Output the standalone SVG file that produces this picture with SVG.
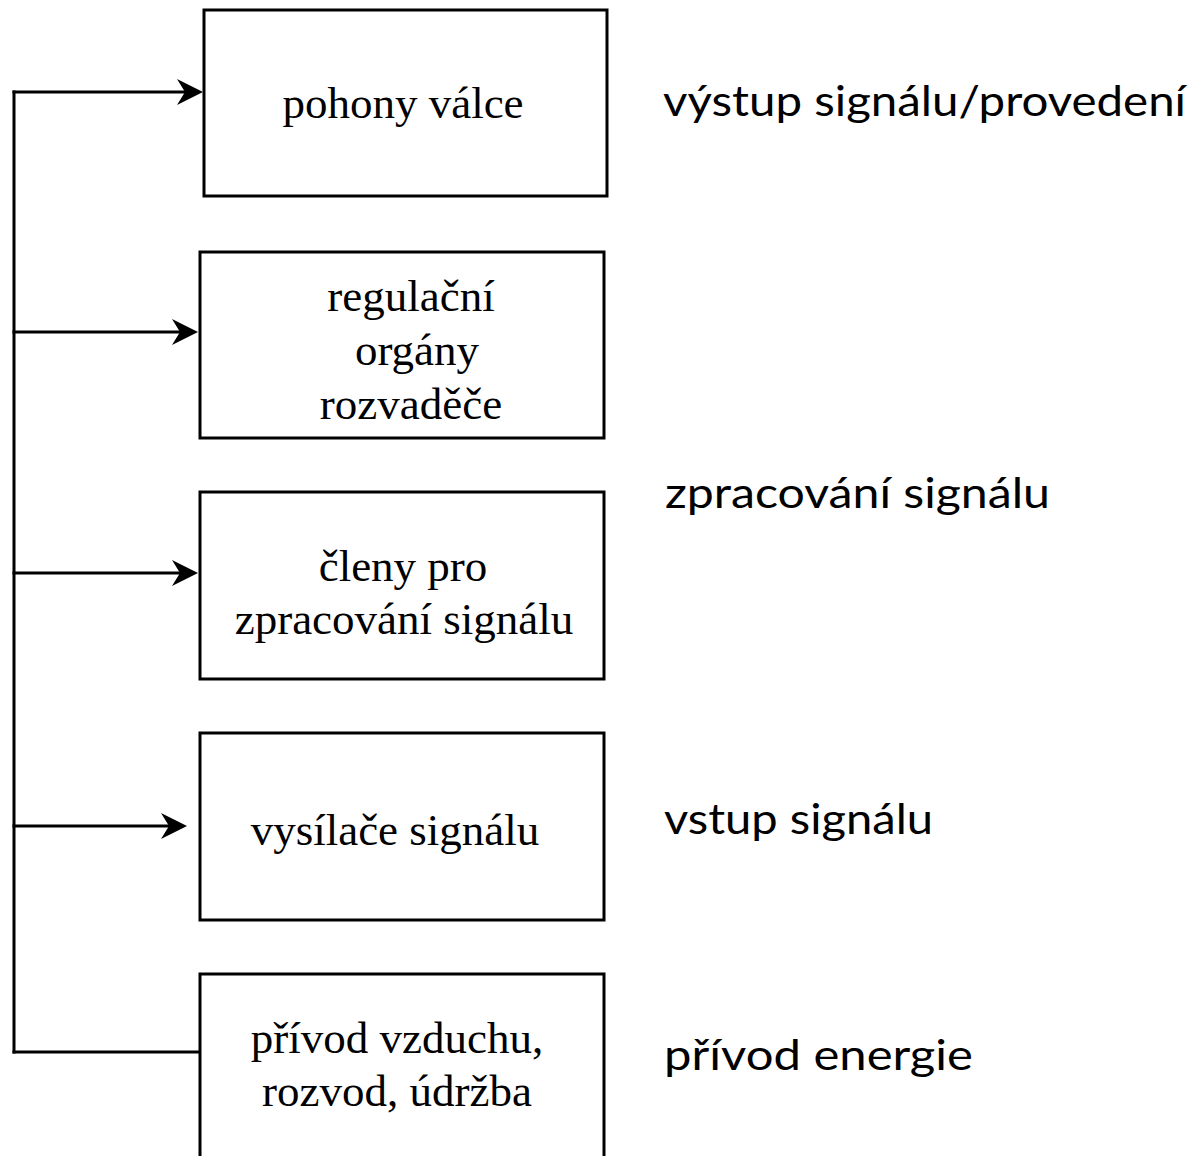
<svg xmlns="http://www.w3.org/2000/svg" width="1198" height="1156" viewBox="0 0 1198 1156">
<style>
.box{fill:#fff;stroke:#000;stroke-width:3}
.t{font-family:"Liberation Serif","Times New Roman",serif;font-size:45px;fill:#000;text-anchor:middle}
.lab{font-family:Lato,"Open Sans","Liberation Sans",sans-serif;font-size:42px;fill:#000}
.ln{fill:none;stroke:#000;stroke-width:3}
</style>
<defs>
<marker id="arr" markerUnits="userSpaceOnUse" markerWidth="28" markerHeight="28" refX="16" refY="13" orient="auto" overflow="visible">
<path d="M0,0 L26,13 L0,26 L8,13 Z" fill="#000"/>
</marker>
</defs>
<rect width="1198" height="1156" fill="#fff"/>
<g id="connectors">
<line class="ln" x1="14" y1="90.5" x2="14" y2="1053.5"/>
<line class="ln" x1="12.5" y1="92" x2="193" y2="92" marker-end="url(#arr)"/>
<line class="ln" x1="12.5" y1="332" x2="188" y2="332" marker-end="url(#arr)"/>
<line class="ln" x1="12.5" y1="573" x2="188" y2="573" marker-end="url(#arr)"/>
<line class="ln" x1="12.5" y1="826" x2="177" y2="826" marker-end="url(#arr)"/>
<line class="ln" x1="12.5" y1="1052" x2="200" y2="1052"/>
</g>
<g id="node1">
<rect class="box" x="204" y="10" width="403" height="186"/>
<text class="t" x="403" y="118">pohony válce</text>
</g>
<g id="node2">
<rect class="box" x="200" y="252" width="404" height="186"/>
<text class="t" x="411" y="311">regulační</text>
<text class="t" x="417" y="365">orgány</text>
<text class="t" x="411" y="419">rozvaděče</text>
</g>
<g id="node3">
<rect class="box" x="200" y="492" width="404" height="187"/>
<text class="t" x="403" y="581">členy pro</text>
<text class="t" x="404" y="634">zpracování signálu</text>
</g>
<g id="node4">
<rect class="box" x="200" y="733" width="404" height="187"/>
<text class="t" x="395" y="845">vysílače signálu</text>
</g>
<g id="node5">
<rect class="box" x="200" y="974" width="404" height="200"/>
<text class="t" x="397" y="1053">přívod vzduchu,</text>
<text class="t" x="397" y="1106">rozvod, údržba</text>
</g>
<g id="labels">
<text class="lab" x="663" y="116" textLength="523" lengthAdjust="spacingAndGlyphs">výstup signálu/provedení</text>
<text class="lab" x="665" y="508" textLength="385" lengthAdjust="spacingAndGlyphs">zpracování signálu</text>
<text class="lab" x="664" y="834" textLength="269" lengthAdjust="spacingAndGlyphs">vstup signálu</text>
<text class="lab" x="664" y="1070" textLength="309" lengthAdjust="spacingAndGlyphs">přívod energie</text>
</g>
</svg>
